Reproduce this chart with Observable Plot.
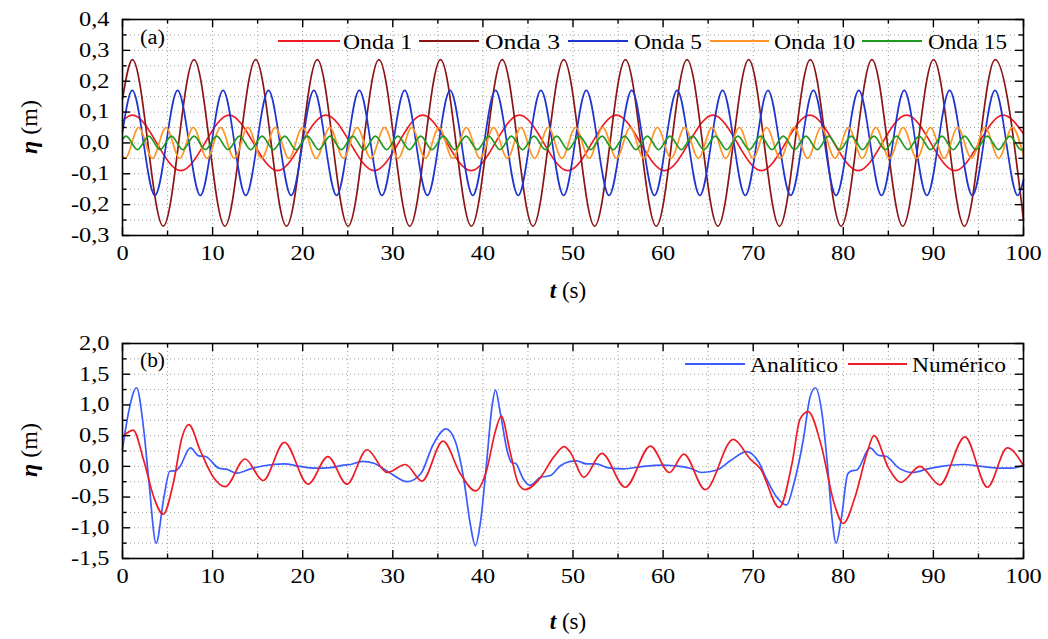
<!DOCTYPE html>
<html><head><meta charset="utf-8">
<script src="https://cdn.jsdelivr.net/npm/d3@7"></script>
<script src="https://cdn.jsdelivr.net/npm/@observablehq/plot@0.6"></script>
<style>
body{margin:0;background:#fff}
#chart{width:1048px}
#chart svg{display:block;font-family:"Liberation Serif","Times New Roman",serif !important}
</style>
</head><body><div id="chart"></div>
<script>
// ---------- data (extrema of each wave, t in s, eta in m) ----------
const xTicks = [0, 10, 20, 30, 40, 50, 60, 70, 80, 90, 100];
const yTicksA = [-0.3, -0.2, -0.1, 0.0, 0.1, 0.2, 0.3, 0.4];
const yTicksB = [-1.5, -1.0, -0.5, 0.0, 0.5, 1.0, 1.5, 2.0];
const labelsA = ["Onda 1", "Onda 3", "Onda 5", "Onda 10", "Onda 15"];
const labelsB = ["Analítico", "Numérico"];

const onda1 = [[0,0.072],[1.1,0.09],[6.47,-0.09],[11.84,0.09],[17.21,-0.09],[22.58,0.09],[27.95,-0.09],[33.32,0.09],[38.69,-0.09],[44.06,0.09],[49.43,-0.09],[54.8,0.09],[60.17,-0.09],[65.54,0.09],[70.91,-0.09],[76.28,0.09],[81.65,-0.09],[87.02,0.09],[92.39,-0.09],[97.76,0.09],[100,0.03]];

const onda3 = [[0,0.143],[1.1,0.27],[4.52,-0.27],[7.94,0.27],[11.36,-0.27],[14.78,0.27],[18.2,-0.27],[21.62,0.27],[25.04,-0.27],[28.46,0.27],[31.88,-0.27],[35.3,0.27],[38.72,-0.27],[42.14,0.27],[45.56,-0.27],[48.98,0.27],[52.4,-0.27],[55.82,0.27],[59.24,-0.27],[62.66,0.27],[66.08,-0.27],[69.5,0.27],[72.92,-0.27],[76.34,0.27],[79.76,-0.27],[83.18,0.27],[86.6,-0.27],[90.02,0.27],[93.44,-0.27],[96.86,0.27],[100,-0.25]];

const onda5 = [[0,0.035],[1.08,0.17],[3.6,-0.17],[6.12,0.17],[8.64,-0.17],[11.16,0.17],[13.68,-0.17],[16.2,0.17],[18.72,-0.17],[21.24,0.17],[23.76,-0.17],[26.28,0.17],[28.8,-0.17],[31.32,0.17],[33.84,-0.17],[36.36,0.17],[38.88,-0.17],[41.4,0.17],[43.92,-0.17],[46.44,0.17],[48.96,-0.17],[51.48,0.17],[54,-0.17],[56.52,0.17],[59.04,-0.17],[61.56,0.17],[64.08,-0.17],[66.6,0.17],[69.12,-0.17],[71.64,0.17],[74.16,-0.17],[76.68,0.17],[79.2,-0.17],[81.72,0.17],[84.24,-0.17],[86.76,0.17],[89.28,-0.17],[91.8,0.17],[94.32,-0.17],[96.84,0.17],[99.36,-0.17],[100,-0.12]];

const onda10 = [[0,-0.042],[0.29,-0.05],[1.8,0.05],[3.32,-0.05],[4.83,0.05],[6.35,-0.05],[7.86,0.05],[9.38,-0.05],[10.89,0.05],[12.41,-0.05],[13.92,0.05],[15.44,-0.05],[16.95,0.05],[18.47,-0.05],[19.98,0.05],[21.5,-0.05],[23.01,0.05],[24.53,-0.05],[26.04,0.05],[27.56,-0.05],[29.07,0.05],[30.59,-0.05],[32.1,0.05],[33.62,-0.05],[35.13,0.05],[36.65,-0.05],[38.16,0.05],[39.68,-0.05],[41.19,0.05],[42.71,-0.05],[44.22,0.05],[45.74,-0.05],[47.25,0.05],[48.77,-0.05],[50.28,0.05],[51.8,-0.05],[53.31,0.05],[54.83,-0.05],[56.34,0.05],[57.86,-0.05],[59.37,0.05],[60.89,-0.05],[62.4,0.05],[63.92,-0.05],[65.43,0.05],[66.95,-0.05],[68.46,0.05],[69.98,-0.05],[71.49,0.05],[73.01,-0.05],[74.52,0.05],[76.04,-0.05],[77.55,0.05],[79.07,-0.05],[80.58,0.05],[82.1,-0.05],[83.61,0.05],[85.13,-0.05],[86.64,0.05],[88.16,-0.05],[89.67,0.05],[91.19,-0.05],[92.7,0.05],[94.22,-0.05],[95.73,0.05],[97.25,-0.05],[98.76,0.05],[100,-0.042]];

const onda15 = [[0,0.012],[0.4,0.022],[1.66,-0.022],[2.92,0.022],[4.17,-0.022],[5.43,0.022],[6.69,-0.022],[7.95,0.022],[9.2,-0.022],[10.46,0.022],[11.72,-0.022],[12.98,0.022],[14.23,-0.022],[15.49,0.022],[16.75,-0.022],[18.01,0.022],[19.26,-0.022],[20.52,0.022],[21.78,-0.022],[23.04,0.022],[24.29,-0.022],[25.55,0.022],[26.81,-0.022],[28.07,0.022],[29.32,-0.022],[30.58,0.022],[31.84,-0.022],[33.1,0.022],[34.35,-0.022],[35.61,0.022],[36.87,-0.022],[38.13,0.022],[39.38,-0.022],[40.64,0.022],[41.9,-0.022],[43.16,0.022],[44.41,-0.022],[45.67,0.022],[46.93,-0.022],[48.19,0.022],[49.44,-0.022],[50.7,0.022],[51.96,-0.022],[53.22,0.022],[54.47,-0.022],[55.73,0.022],[56.99,-0.022],[58.25,0.022],[59.5,-0.022],[60.76,0.022],[62.02,-0.022],[63.28,0.022],[64.53,-0.022],[65.79,0.022],[67.05,-0.022],[68.31,0.022],[69.56,-0.022],[70.82,0.022],[72.08,-0.022],[73.34,0.022],[74.59,-0.022],[75.85,0.022],[77.11,-0.022],[78.37,0.022],[79.62,-0.022],[80.88,0.022],[82.14,-0.022],[83.4,0.022],[84.65,-0.022],[85.91,0.022],[87.17,-0.022],[88.43,0.022],[89.68,-0.022],[90.94,0.022],[92.2,-0.022],[93.46,0.022],[94.71,-0.022],[95.97,0.022],[97.23,-0.022],[98.49,0.022],[99.74,-0.022],[100,-0.021]];

const analitico = [[0,0.28],[0.7,0.9],[1.55,1.28],[2.37,0.58],[2.92,-0.23],[3.73,-1.25],[4.6,-0.5],[5.25,-0.08],[5.9,-0.07],[6.3,-0.02],[7.54,0.3],[8.47,0.17],[9.2,0.16],[10.7,-0.03],[11.6,-0.05],[12.7,-0.11],[14.2,-0.04],[15.7,0.01],[17.9,0.04],[19.7,0.0],[21.2,-0.03],[23.1,-0.02],[24.5,0.02],[25.3,0.03],[26.6,0.08],[27.9,0.05],[29.7,-0.11],[31.6,-0.25],[33.1,-0.12],[34.5,0.36],[35.9,0.61],[36.9,0.42],[37.9,-0.23],[38.6,-0.94],[39.16,-1.29],[39.7,-0.94],[40.4,0.04],[41.0,0.96],[41.4,1.24],[41.9,0.9],[42.7,0.25],[43.2,0.06],[43.6,0.05],[44.5,-0.21],[45.2,-0.31],[46.4,-0.18],[47.5,-0.15],[48.6,0.01],[49.7,0.08],[50.4,0.09],[51.5,0.04],[52.6,0.04],[53.8,-0.02],[55.6,-0.04],[57.8,0.0],[60.0,0.02],[61.2,0.01],[63.0,-0.03],[64.3,-0.1],[66.0,-0.06],[67.45,0.09],[69.3,0.24],[70.6,0.07],[71.5,-0.21],[72.6,-0.5],[73.7,-0.63],[74.5,-0.29],[75.6,0.47],[76.3,1.12],[76.9,1.28],[77.6,0.9],[78.3,-0.07],[78.7,-0.78],[79.2,-1.25],[79.8,-0.83],[80.5,-0.12],[81.0,-0.07],[81.5,-0.06],[82.97,0.3],[83.9,0.18],[84.8,0.16],[86.1,-0.02],[87.7,-0.1],[89.4,-0.04],[90.9,0.0],[93.3,0.03],[95.3,0.0],[97.6,-0.03],[98.7,-0.03],[100,0.02]];

const numerico = [[0,0.48],[1.18,0.59],[2.37,0.09],[3.47,-0.5],[4.51,-0.78],[5.7,-0.23],[6.6,0.47],[7.36,0.68],[8.65,0.25],[10.1,-0.18],[11.4,-0.33],[13.6,0.12],[15.6,-0.23],[17.97,0.39],[20.6,-0.29],[22.8,0.16],[24.9,-0.29],[27.14,0.27],[29.36,-0.1],[31.4,0.03],[33.24,-0.24],[35.57,0.41],[37.5,-0.12],[39.16,-0.4],[40.4,-0.07],[41.4,0.58],[42.04,0.82],[43.0,0.25],[43.96,-0.29],[44.7,-0.38],[46.4,-0.18],[47.85,0.15],[49.03,0.32],[49.7,0.23],[51.2,-0.18],[53.2,0.21],[55.8,-0.34],[58.6,0.33],[60.7,-0.1],[62.3,0.2],[64.67,-0.38],[67.8,0.44],[69.66,0.12],[70.8,-0.04],[72.9,-0.67],[74.3,0.04],[75.2,0.77],[76.1,0.89],[77.6,0.31],[78.9,-0.56],[80.0,-0.93],[81.3,-0.5],[82.6,0.2],[83.4,0.5],[85.0,-0.02],[86.4,-0.26],[88.5,0.0],[90.7,-0.3],[93.5,0.48],[96.0,-0.34],[98.2,0.3],[100,0.01]];

const colorsA = ["#ee1c25", "#8b1414", "#1f35d0", "#ff9526", "#1f9a1f"];
const colorsB = ["#3a5cff", "#ee1c25"];

// ---------- drawing ----------
const W = 1048, ML = 122, MR = 25;
const fmtComma = d => d.toFixed(1).replace(".", ",");
const FONT = "'Liberation Serif', 'Times New Roman', serif";

function makePanel({height, mt, mb, yDomain, yMajor, yStep, series, strokeWidth}) {
  const innerH = height - mt - mb, innerW = W - ML - MR;
  const xMinor = d3.range(0, 100.001, 5);
  const xMinorOnly = xMinor.filter(d => d % 10 !== 0);
  const yAll = d3.range(0, Math.round((yDomain[1] - yDomain[0]) / yStep) + 1).map(i => yDomain[0] + i * yStep);
  const yMinorOnly = yAll.filter(v => !yMajor.some(m => Math.abs(m - v) < 1e-6));
  const grid = {stroke: "#a0a0a0", strokeWidth: 1, strokeDasharray: "1,3"};
  const tk = {stroke: "#000", strokeWidth: 1.4};
  return Plot.plot({
    width: W, height, marginTop: mt, marginBottom: mb, marginLeft: ML, marginRight: MR,
    x: {domain: [0, 100], label: null},
    y: {domain: yDomain, label: null},
    style: {fontFamily: FONT, fontSize: "20px", color: "#000", background: "#fff", overflow: "visible"},
    marks: [
      Plot.ruleX(xMinor.slice(1, -1), grid),
      Plot.ruleY(yAll.slice(1, -1), grid),
      ...series.map(s => Plot.line(s.data, {x: d => d[0], y: d => d[1], stroke: s.color, strokeWidth, curve: "monotone-x"})),
      Plot.ruleX(xTicks, {...tk, insetTop: innerH - 8}),
      Plot.ruleX(xTicks, {...tk, insetBottom: innerH - 8}),
      Plot.ruleX(xMinorOnly, {...tk, insetTop: innerH - 4.5}),
      Plot.ruleX(xMinorOnly, {...tk, insetBottom: innerH - 4.5}),
      Plot.ruleY(yMajor, {...tk, insetRight: innerW - 8}),
      Plot.ruleY(yMajor, {...tk, insetLeft: innerW - 8}),
      Plot.ruleY(yMinorOnly, {...tk, insetRight: innerW - 4.5}),
      Plot.ruleY(yMinorOnly, {...tk, insetLeft: innerW - 4.5}),
      Plot.frame({stroke: "#000", strokeWidth: 1.6}),
      Plot.axisX(xTicks, {tickSize: 0, tickPadding: 10, tickFormat: d => String(d), label: null}),
      Plot.axisY(yMajor, {tickSize: 0, tickPadding: 13, tickFormat: fmtComma, label: null})
    ]
  });
}

function stretchTicks(svg, k) {
  svg.querySelectorAll('g[aria-label="x-axis tick label"] text, g[aria-label="y-axis tick label"] text').forEach(t => {
    const L = t.getComputedTextLength();
    t.setAttribute("textLength", (L * k).toFixed(1));
    t.setAttribute("lengthAdjust", "spacingAndGlyphs");
  });
}

function decorate(svg, {tag, tagY, etaY, titleY, legendY, items}) {
  const s = d3.select(svg);
  s.append("text").attr("x", 140).attr("y", tagY).attr("text-anchor", "start").style("font-size", "20px")
    .attr("textLength", 25).attr("lengthAdjust", "spacingAndGlyphs").text(tag);
  const et = s.append("text").attr("transform", `translate(37,${etaY}) rotate(-90)`)
    .attr("text-anchor", "middle").style("font-size", "24px");
  et.append("tspan").attr("font-style", "italic").attr("font-weight", "bold").text("η");
  et.append("tspan").text(" (m)");
  const tt = s.append("text").attr("x", 568).attr("y", titleY).attr("text-anchor", "middle").style("font-size", "23px");
  tt.append("tspan").attr("font-style", "italic").attr("font-weight", "bold").text("t");
  tt.append("tspan").text(" (s)");
  const g = s.append("g");
  items.forEach(it => {
    g.append("line").attr("x1", it.x1).attr("x2", it.x2).attr("y1", legendY).attr("y2", legendY)
      .attr("stroke", it.color).attr("stroke-width", 2);
    g.append("text").attr("x", it.tx).attr("y", legendY + 8).attr("text-anchor", "start").style("font-size", it.fs + "px")
      .attr("textLength", it.tw).attr("lengthAdjust", "spacingAndGlyphs").text(it.label);
  });
}

const seriesA = [onda1, onda3, onda5, onda10, onda15].map((data, i) => ({data, color: colorsA[i]}));
const seriesB = [analitico, numerico].map((data, i) => ({data, color: colorsB[i]}));

const svgA = makePanel({height: 320, mt: 19, mb: 85, yDomain: [-0.3, 0.4], yMajor: yTicksA, yStep: 0.05, series: seriesA, strokeWidth: 1.7});
const svgB = makePanel({height: 319, mt: 23, mb: 81, yDomain: [-1.5, 2.0], yMajor: yTicksB, yStep: 0.25, series: seriesB, strokeWidth: 1.7});
const root = document.getElementById("chart");
root.appendChild(svgA);
root.appendChild(svgB);
stretchTicks(svgA, 1.22);
stretchTicks(svgB, 1.22);

const legA = [
  {x1: 278, x2: 340, tx: 343, tw: 69, fs: 20},
  {x1: 419, x2: 479, tx: 485, tw: 75, fs: 22},
  {x1: 568, x2: 628, tx: 634, tw: 68, fs: 20},
  {x1: 710, x2: 769, tx: 774, tw: 81, fs: 20},
  {x1: 862, x2: 922, tx: 928, tw: 79, fs: 20}
].map((d, i) => ({...d, label: labelsA[i], color: colorsA[i]}));
const legB = [
  {x1: 685, x2: 745, tx: 750, tw: 88, fs: 20},
  {x1: 848, x2: 907, tx: 912, tw: 94, fs: 20}
].map((d, i) => ({...d, label: labelsB[i], color: colorsB[i]}));

decorate(svgA, {tag: "(a)", tagY: 44, etaY: 127, titleY: 298, legendY: 41, items: legA});
decorate(svgB, {tag: "(b)", tagY: 47, etaY: 130, titleY: 309, legendY: 44, items: legB});
</script>
</body></html>
